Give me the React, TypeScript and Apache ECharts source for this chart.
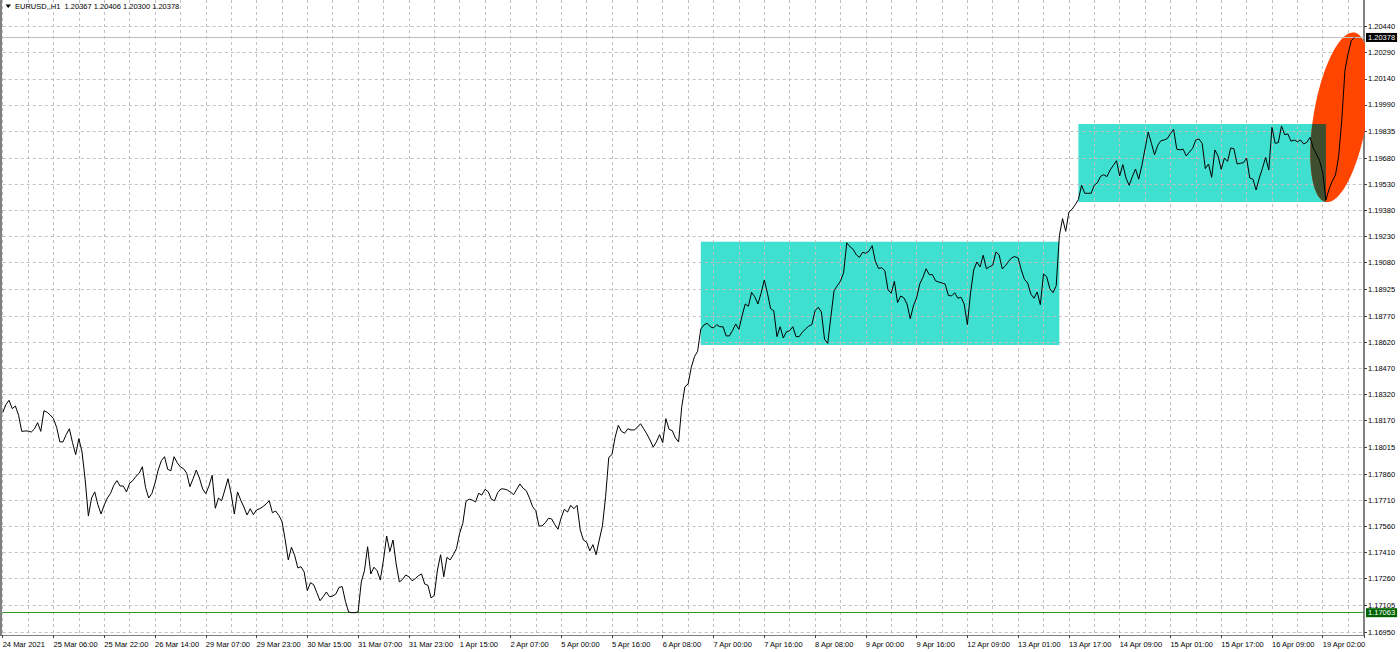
import React, { useEffect, useRef } from 'react';
import * as echarts from 'echarts';

const symbolTitle = 'EURUSD,,H1';
const lastBarOHLC = ['1.20367', '1.20406', '1.20300', '1.20378'];

const xTickStep = 16;
const xTickLabels = [
  '24 Mar 2021', '25 Mar 06:00', '25 Mar 22:00', '26 Mar 14:00', '29 Mar 07:00', '29 Mar 23:00',
  '30 Mar 15:00', '31 Mar 07:00', '31 Mar 23:00', '1 Apr 15:00', '2 Apr 07:00', '5 Apr 00:00',
  '5 Apr 16:00', '6 Apr 08:00', '7 Apr 00:00', '7 Apr 16:00', '8 Apr 08:00', '9 Apr 00:00',
  '9 Apr 16:00', '12 Apr 09:00', '13 Apr 01:00', '13 Apr 17:00', '14 Apr 09:00', '15 Apr 01:00',
  '15 Apr 17:00', '16 Apr 09:00', '19 Apr 02:00',
];

const yTickLabels = [
  '1.16950', '1.17105', '1.17260', '1.17410', '1.17560', '1.17710', '1.17860', '1.18015',
  '1.18170', '1.18320', '1.18470', '1.18620', '1.18770', '1.18925', '1.19080', '1.19230',
  '1.19380', '1.19530', '1.19680', '1.19835', '1.19990', '1.20140', '1.20290', '1.20440',
];

// hourly closes, bars 0..109
const closeA = [
  1.18216, 1.18262, 1.18287, 1.18239, 1.18254, 1.18201, 1.18108, 1.18110, 1.18110, 1.18104,
  1.18122, 1.18158, 1.18108, 1.18227, 1.18218, 1.18202, 1.18181, 1.18131, 1.18048, 1.18047,
  1.18089, 1.18123, 1.18043, 1.17974, 1.18066, 1.17989, 1.17828, 1.17620, 1.17724, 1.17759,
  1.17685, 1.17632, 1.17684, 1.17724, 1.17751, 1.17797, 1.17824, 1.17793, 1.17793, 1.17759,
  1.17809, 1.17824, 1.17849, 1.17866, 1.17904, 1.17786, 1.17724, 1.17749, 1.17810, 1.17885,
  1.17939, 1.17962, 1.17889, 1.17881, 1.17962, 1.17927, 1.17903, 1.17893, 1.17866, 1.17789,
  1.17835, 1.17885, 1.17839, 1.17776, 1.17749, 1.17793, 1.17855, 1.17665, 1.17724, 1.17708,
  1.17770, 1.17835, 1.17747, 1.17632, 1.17759, 1.17712, 1.17672, 1.17626, 1.17662, 1.17628,
  1.17655, 1.17662, 1.17674, 1.17689, 1.17708, 1.17639, 1.17649, 1.17624, 1.17590, 1.17486,
  1.17367, 1.17440, 1.17394, 1.17321, 1.17328, 1.17298, 1.17190, 1.17236, 1.17224, 1.17178,
  1.17132, 1.17155, 1.17182, 1.17155, 1.17159, 1.17171, 1.17209, 1.17213, 1.17129, 1.17067,
];
// bars 110..219
const closeB = [
  1.17063, 1.17063, 1.17067, 1.17240, 1.17305, 1.17443, 1.17286, 1.17325, 1.17305, 1.17251,
  1.17367, 1.17505, 1.17415, 1.17482, 1.17344, 1.17240, 1.17255, 1.17280, 1.17270, 1.17247,
  1.17259, 1.17276, 1.17286, 1.17228, 1.17221, 1.17148, 1.17163, 1.17309, 1.17397, 1.17270,
  1.17382, 1.17367, 1.17397, 1.17432, 1.17521, 1.17578, 1.17705, 1.17717, 1.17712, 1.17701,
  1.17751, 1.17741, 1.17774, 1.17760, 1.17717, 1.17708, 1.17755, 1.17776, 1.17776, 1.17770,
  1.17759, 1.17743, 1.17774, 1.17805, 1.17780, 1.17766, 1.17724, 1.17674, 1.17651, 1.17563,
  1.17563, 1.17582, 1.17607, 1.17603, 1.17570, 1.17544, 1.17610, 1.17659, 1.17643, 1.17682,
  1.17662, 1.17682, 1.17540, 1.17482, 1.17470, 1.17420, 1.17455, 1.17397, 1.17482, 1.17563,
  1.17732, 1.17958, 1.17974, 1.18074, 1.18143, 1.18108, 1.18097, 1.18123, 1.18116, 1.18116,
  1.18131, 1.18152, 1.18123, 1.18093, 1.18058, 1.18017, 1.18047, 1.18089, 1.18043, 1.18181,
  1.18120, 1.18112, 1.18070, 1.18047, 1.18250, 1.18365, 1.18381, 1.18477, 1.18538, 1.18570,
];
// bars 220..332
const closeC = [
  1.18698, 1.18721, 1.18731, 1.18711, 1.18704, 1.18723, 1.18711, 1.18711, 1.18658, 1.18658,
  1.18689, 1.18727, 1.18696, 1.18773, 1.18842, 1.18829, 1.18909, 1.18884, 1.18842, 1.18904,
  1.18980, 1.18904, 1.18815, 1.18803, 1.18654, 1.18711, 1.18646, 1.18682, 1.18688, 1.18711,
  1.18654, 1.18654, 1.18679, 1.18698, 1.18714, 1.18723, 1.18803, 1.18823, 1.18796, 1.18639,
  1.18615, 1.18769, 1.18919, 1.18947, 1.18973, 1.19022, 1.19195, 1.19172, 1.19157, 1.19126,
  1.19111, 1.19140, 1.19134, 1.19147, 1.19178, 1.19088, 1.19047, 1.19051, 1.19034, 1.18923,
  1.18904, 1.18973, 1.18850, 1.18888, 1.18877, 1.18842, 1.18757, 1.18831, 1.18877, 1.18957,
  1.18996, 1.19045, 1.19011, 1.19011, 1.18975, 1.18969, 1.18963, 1.18957, 1.18892, 1.18888,
  1.18907, 1.18875, 1.18881, 1.18842, 1.18723, 1.18904, 1.19038, 1.19084, 1.19055, 1.19123,
  1.19045, 1.19057, 1.19065, 1.19142, 1.19126, 1.19044, 1.19063, 1.19088, 1.19109, 1.19115,
  1.19107, 1.19038, 1.18984, 1.18963, 1.18900, 1.18875, 1.18911, 1.18838, 1.19015, 1.18999,
  1.18930, 1.18907, 1.18947,
];
// bars 333..426
const closeD = [
  1.19235, 1.19334, 1.19261, 1.19371, 1.19388, 1.19414, 1.19445, 1.19526, 1.19480, 1.19480,
  1.19480, 1.19526, 1.19541, 1.19578, 1.19587, 1.19576, 1.19614, 1.19641, 1.19668, 1.19580,
  1.19645, 1.19568, 1.19526, 1.19576, 1.19620, 1.19561, 1.19641, 1.19737, 1.19833, 1.19768,
  1.19702, 1.19757, 1.19783, 1.19787, 1.19795, 1.19823, 1.19849, 1.19734, 1.19730, 1.19734,
  1.19695, 1.19718, 1.19739, 1.19787, 1.19793, 1.19768, 1.19622, 1.19649, 1.19572, 1.19730,
  1.19695, 1.19618, 1.19683, 1.19664, 1.19741, 1.19737, 1.19649, 1.19653, 1.19656, 1.19683,
  1.19568, 1.19561, 1.19499, 1.19568, 1.19624, 1.19687, 1.19614, 1.19860, 1.19768, 1.19772,
  1.19868, 1.19818, 1.19822, 1.19780, 1.19787, 1.19777, 1.19787, 1.19764, 1.19774, 1.19803,
  1.19741, 1.19706, 1.19668, 1.19599, 1.19441, 1.19505, 1.19550, 1.19585, 1.19690, 1.19902,
  1.20190, 1.20285, 1.20360, 1.20378,
];

const currentPrice = 1.20378;
const lowLevel = 1.17063;
// [fromBar, toBar, topPrice, bottomPrice]
const boxes = [
  [220, 333, 1.192, 1.18605],
  [339, 417, 1.19879, 1.1943],
];
// ellipse: two ends of its long axis [bar, price], and short/long ratio
const ellipseAnchors = [[417, 1.1943], [426, 1.20406]];
const ellipseRatio = 0.31;

const xMax = 429;
const yMin = 1.169344;
const yMax = 1.205939;

const FONT = 'Liberation Sans';

function clipPolygon(pts: number[][], x0: number, x1: number, y0: number, y1: number) {
  const edges = [
    { inside: (p: number[]) => p[0] >= x0, cut: (a: number[], b: number[]) => { const t = (x0 - a[0]) / (b[0] - a[0]); return [x0, a[1] + t * (b[1] - a[1])]; } },
    { inside: (p: number[]) => p[0] <= x1, cut: (a: number[], b: number[]) => { const t = (x1 - a[0]) / (b[0] - a[0]); return [x1, a[1] + t * (b[1] - a[1])]; } },
    { inside: (p: number[]) => p[1] >= y0, cut: (a: number[], b: number[]) => { const t = (y0 - a[1]) / (b[1] - a[1]); return [a[0] + t * (b[0] - a[0]), y0]; } },
    { inside: (p: number[]) => p[1] <= y1, cut: (a: number[], b: number[]) => { const t = (y1 - a[1]) / (b[1] - a[1]); return [a[0] + t * (b[0] - a[0]), y1]; } },
  ];
  let out = pts;
  for (const e of edges) {
    const input = out;
    out = [];
    for (let i = 0; i < input.length; i++) {
      const cur = input[i];
      const prev = input[(i + input.length - 1) % input.length];
      const ci = e.inside(cur);
      const pi = e.inside(prev);
      if (ci) {
        if (!pi) out.push(e.cut(prev, cur));
        out.push(cur);
      } else if (pi) {
        out.push(e.cut(prev, cur));
      }
    }
    if (!out.length) break;
  }
  return out;
}

export default function App() {
  const ref = useRef<HTMLDivElement>(null);
  useEffect(() => {
    if (!ref.current) return;
    const chart = echarts.init(ref.current, null, { renderer: 'svg' });
    const closes = [...closeA, ...closeB, ...closeC, ...closeD];
    const lineData = closes.map((c, i) => [i, c]);
    const yTickValues = yTickLabels.map((s) => parseFloat(s));
    const dash = [3, 3];
    const gridColor = '#c0c0c0';

    const option: any = {
      animation: false,
      backgroundColor: '#ffffff',
      grid: { left: 2.7, right: 36, top: 0, bottom: 17, containLabel: false, outerBoundsMode: 'none' },
      xAxis: {
        type: 'value',
        min: 0,
        max: xMax,
        interval: xTickStep,
        axisLine: { show: true, onZero: false, lineStyle: { color: '#808080', width: 1 } },
        axisTick: { show: true, length: 3, lineStyle: { color: '#404040' } },
        minorTick: { show: false, splitNumber: 2 },
        minorSplitLine: { show: true, lineStyle: { color: gridColor, type: dash, width: 1 } },
        splitLine: { show: true, lineStyle: { color: gridColor, type: dash, width: 1 } },
        axisLabel: {
          show: true,
          align: 'left',
          margin: 5,
          color: '#000',
          fontFamily: FONT,
          fontSize: 7.5,
          showMinLabel: true,
          showMaxLabel: true,
          formatter: (v: number) => {
            const k = Math.round(v / xTickStep);
            if (Math.abs(v - k * xTickStep) > 1e-6) return '';
            return xTickLabels[k] || '';
          },
        },
      },
      yAxis: {
        type: 'value',
        position: 'right',
        min: yMin,
        max: yMax,
        scale: true,
        axisLine: { show: true, onZero: false, lineStyle: { color: '#808080', width: 2 } },
        axisTick: { show: true, length: 3, inside: false, customValues: yTickValues, lineStyle: { color: '#404040' } },
        splitLine: { show: true, lineStyle: { color: gridColor, type: dash, width: 1 } },
        axisLabel: {
          show: true,
          customValues: yTickValues,
          margin: 4,
          align: 'left',
          color: '#000',
          fontFamily: FONT,
          fontSize: 7.5,
          formatter: (v: number) => v.toFixed(5),
        },
      },
      graphic: [
        { type: 'rect', left: 0, top: 0, shape: { x: 0, y: 0, width: 2, height: 636 }, style: { fill: '#808080' }, z: 100 },
        { type: 'polygon', shape: { points: [[5.5, 4.5], [11, 4.5], [8.25, 8]] }, style: { fill: '#000' }, z: 100 },
        {
          type: 'text', x: 15, y: 6.5, z: 100,
          style: {
            text: symbolTitle + '  ' + lastBarOHLC.join(' '),
            fill: '#000', font: `7.5px "${FONT}"`, verticalAlign: 'middle', align: 'left',
          },
        },
      ],
      series: [
        {
          type: 'custom',
          name: 'boxes',
          z: -1,
          silent: true,
          clip: true,
          data: boxes,
          encode: { x: [0, 1], y: [2, 3] },
          renderItem: (params: any, api: any) => {
            const p0 = api.coord([api.value(0), api.value(2)]);
            const p1 = api.coord([api.value(1), api.value(3)]);
            return {
              type: 'rect',
              shape: { x: p0[0], y: p0[1], width: p1[0] - p0[0], height: p1[1] - p0[1] },
              style: { fill: '#40E0D0' },
            };
          },
        },
        {
          type: 'custom',
          name: 'ellipse',
          z: 3,
          silent: true,
          clip: true,
          data: [[ellipseAnchors[0][0], ellipseAnchors[0][1], ellipseAnchors[1][0], ellipseAnchors[1][1]]],
          encode: { x: [0, 2], y: [1, 3] },
          renderItem: (params: any, api: any) => {
            const a = api.coord([api.value(0), api.value(1)]);
            const b = api.coord([api.value(2), api.value(3)]);
            const cx = (a[0] + b[0]) / 2;
            const cy = (a[1] + b[1]) / 2;
            const dx = b[0] - a[0];
            const dy = b[1] - a[1];
            const half = Math.hypot(dx, dy) / 2;
            const ux = dx / (2 * half);
            const uy = dy / (2 * half);
            const minor = half * ellipseRatio;
            const vx = -uy;
            const vy = ux;
            const pts: number[][] = [];
            const N = 160;
            for (let k = 0; k < N; k++) {
              const t = (2 * Math.PI * k) / N;
              const c = Math.cos(t);
              const s = Math.sin(t);
              pts.push([cx + half * c * ux + minor * s * vx, cy + half * c * uy + minor * s * vy]);
            }
            const box = boxes[1];
            const r0 = api.coord([box[0], box[2]]);
            const r1 = api.coord([box[1], box[3]]);
            const clipped = clipPolygon(pts, Math.min(r0[0], r1[0]), Math.max(r0[0], r1[0]), Math.min(r0[1], r1[1]), Math.max(r0[1], r1[1]));
            const children: any[] = [
              { type: 'polygon', shape: { points: pts }, style: { fill: '#FF4500' } },
            ];
            if (clipped.length > 2) {
              children.push({ type: 'polygon', shape: { points: clipped }, style: { fill: '#3E4E2E' } });
            }
            return { type: 'group', children };
          },
        },
        {
          type: 'line',
          name: symbolTitle,
          z: 5,
          data: lineData,
          showSymbol: false,
          symbol: 'none',
          silent: true,
          lineStyle: { color: '#000000', width: 1 },
          markLine: {
            silent: true,
            symbol: ['none', 'none'],
            precision: 5,
            animation: false,
            data: [
              {
                yAxis: currentPrice,
                lineStyle: { color: '#c0c0c0', type: 'solid', width: 1 },
                label: {
                  show: true, position: 'end', distance: 2, formatter: () => currentPrice.toFixed(5),
                  backgroundColor: '#000000', color: '#ffffff', padding: [1, 2, 0, 2],
                  fontFamily: FONT, fontSize: 7.5, lineHeight: 8,
                },
              },
              {
                yAxis: lowLevel,
                lineStyle: { color: '#2e9a2e', type: 'solid', width: 1 },
                label: {
                  show: true, position: 'end', distance: 2, formatter: () => lowLevel.toFixed(5),
                  backgroundColor: '#006400', color: '#ffffff', padding: [1, 2, 0, 2],
                  fontFamily: FONT, fontSize: 7.5, lineHeight: 8,
                },
              },
            ],
          },
        },
      ],
    };
    chart.setOption(option);
    return () => chart.dispose();
  }, []);
  return <div ref={ref} style={{ position: 'absolute', left: 0, top: 0, width: 1400, height: 652 }} />;
}
